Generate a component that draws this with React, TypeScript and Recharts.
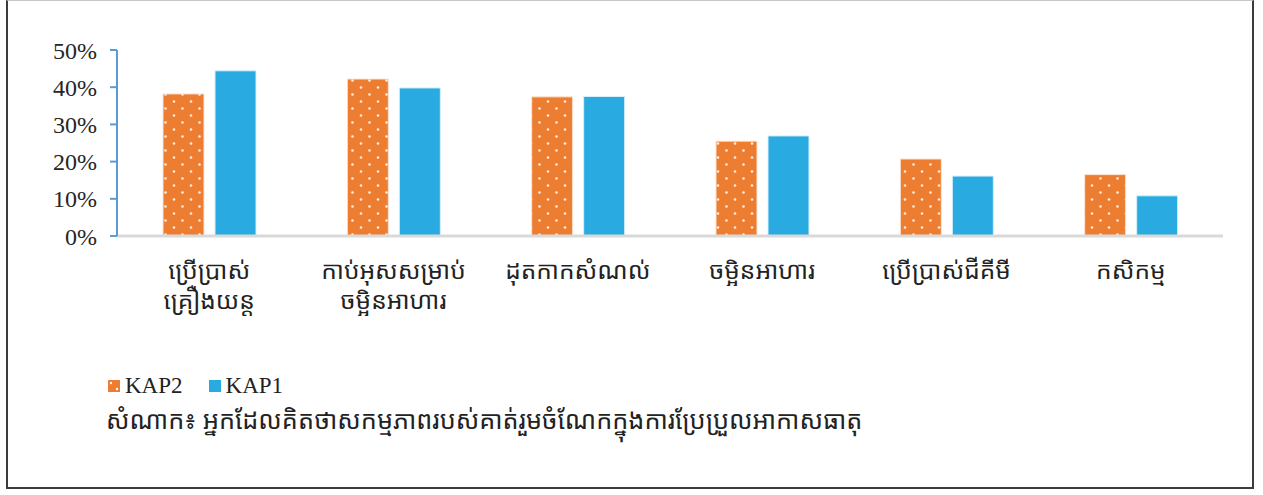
import React from 'react';
import { BarChart, Bar, XAxis, YAxis } from 'recharts';

// Categories (Khmer), split into display lines
const categories = [
  'ប្រើប្រាស់ គ្រឿងយន្ត',
  'កាប់អុសសម្រាប់ ចម្អិនអាហារ',
  'ដុតកាកសំណល់',
  'ចម្អិនអាហារ',
  'ប្រើប្រាស់ជីគីមី',
  'កសិកម្ម',
];
const kap2 = [0.382, 0.422, 0.374, 0.255, 0.207, 0.165];
const kap1 = [0.444, 0.398, 0.375, 0.269, 0.161, 0.108];
const yTicks = [0, 0.1, 0.2, 0.3, 0.4, 0.5];
const sourceNote = 'សំណាក៖ អ្នកដែលគិតថាសកម្មភាពរបស់គាត់រួមចំណែកក្នុងការប្រែប្រួលអាកាសធាតុ';

const data = categories.map((name, i) => ({ name, kap2: kap2[i], kap1: kap1[i] }));

const khmerFont = '"Noto Sans Khmer", "Khmer OS", "Khmer OS System", "Noto Sans", "DejaVu Sans", sans-serif';
const serifFont = '"Liberation Serif", "DejaVu Serif", serif';
const ORANGE = '#ed7d31';
const BLUE = '#29abe2';

const CategoryTick = ({ x, y, payload }: any) => {
  const lines = String(payload.value).split(' ');
  return (
    <text x={x} y={y} textAnchor="middle" fill="#222" style={{ fontFamily: khmerFont, fontSize: 24.5 }}>
      {lines.map((l, i) => (
        <tspan key={i} x={x} dy={i === 0 ? 35 : 30}>{l}</tspan>
      ))}
    </text>
  );
};

export default function App() {
  return (
    <div style={{ position: 'absolute', left: 0, top: 0, width: 1263, height: 495, background: '#fff' }}>
      <div
        style={{
          position: 'absolute', left: 6, top: 0, width: 1244, height: 486,
          borderLeft: '2px solid #3c3c3c', borderRight: '2px solid #3c3c3c',
          borderBottom: '2px solid #3c3c3c', borderTop: '1px solid #c8c8c8',
        }}
      />
      <div style={{ position: 'absolute', left: 0, top: 0 }}>
        <BarChart
          width={1263}
          height={340}
          data={data}
          margin={{ top: 50, right: 40, bottom: 0, left: 57 }}
          barCategoryGap="24.7%"
          barGap={11}
        >
          <defs>
            <pattern id="dots" patternUnits="userSpaceOnUse" width="17" height="14">
              <rect width="17" height="14" fill={ORANGE} />
              <circle cx="4" cy="3.5" r="1.3" fill="#fff" fillOpacity={0.85} />
              <circle cx="12.5" cy="10.5" r="1.3" fill="#fff" fillOpacity={0.85} />
            </pattern>
          </defs>
          <XAxis
            dataKey="name"
            interval={0}
            height={104}
            tickLine={false}
            axisLine={{ stroke: '#d9d9d9', strokeWidth: 3 }}
            tick={<CategoryTick />}
          />
          <YAxis
            width={60}
            domain={[0, 0.5]}
            ticks={yTicks}
            interval={0}
            tickFormatter={(v: number) => `${Math.round(v * 100)}%`}
            axisLine={{ stroke: '#5b9bd5', strokeWidth: 2 }}
            tickLine={{ stroke: '#5b9bd5', strokeWidth: 2 }}
            tickSize={7}
            tickMargin={13}
            tick={{ fill: '#262626', fontSize: 24, fontFamily: serifFont }}
          />
          <Bar dataKey="kap2" fill="url(#dots)" stroke="#fbe3d3" strokeWidth={1} barSize={41} isAnimationActive={false} />
          <Bar dataKey="kap1" fill={BLUE} stroke="#d6effa" strokeWidth={1} barSize={41} isAnimationActive={false} />
        </BarChart>
      </div>
      <div style={{ position: 'absolute', left: 108, top: 373, display: 'flex', alignItems: 'center', fontFamily: serifFont, fontSize: 23, color: '#222' }}>
        <svg width="12" height="12" style={{ marginRight: 5 }}>
          <rect width="12" height="12" fill={ORANGE} />
          <circle cx="3" cy="3" r="1.2" fill="#fff" />
          <circle cx="9" cy="9" r="1.2" fill="#fff" />
        </svg>
        <span>KAP2</span>
        <svg width="12" height="12" style={{ marginLeft: 26, marginRight: 5 }}>
          <rect width="12" height="12" fill={BLUE} />
        </svg>
        <span>KAP1</span>
      </div>
      <div style={{ position: 'absolute', left: 106, top: 402, fontFamily: khmerFont, fontSize: 25.3, color: '#222', whiteSpace: 'nowrap' }}>
        {sourceNote}
      </div>
    </div>
  );
}
